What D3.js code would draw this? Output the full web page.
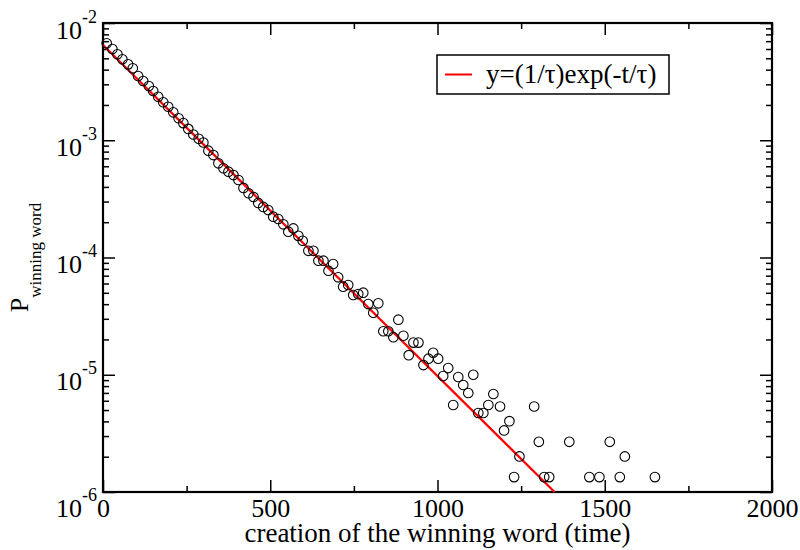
<!DOCTYPE html>
<html>
<head>
<meta charset="utf-8">
<script src="https://cdn.jsdelivr.net/npm/d3@7"></script>
<style>
  body { margin: 0; background: #fff; }
  svg text { font-family: "Liberation Serif", "Times New Roman", serif; fill: #000; }
</style>
</head>
<body>
<svg id="chart"></svg>
<script>
// Winning word creation time distribution
var times = [11, 28, 43, 58, 75, 89, 105, 120, 137, 150, 165, 180, 195, 210, 226, 240, 255, 270, 286, 300,
  315, 330, 345, 360, 375, 390, 405, 420, 435, 450, 464, 479, 494, 509, 524, 539, 554, 569, 584, 597,
  614, 629, 644, 659, 674, 688, 703, 718, 733, 748, 763, 778, 793, 808, 823, 838, 853, 868, 883, 898,
  914, 928, 943, 958, 973, 987, 1002, 1017, 1032, 1047, 1062, 1077, 1092, 1107, 1122, 1137, 1152, 1167,
  1187, 1199, 1215, 1229, 1245, 1289, 1303, 1319, 1334, 1394, 1454, 1484, 1515, 1545, 1560, 1650];

var probs = [6.71e-3, 6.00e-3, 5.41e-3, 4.90e-3, 4.44e-3, 4.11e-3, 3.53e-3, 3.20e-3, 2.90e-3, 2.63e-3,
  2.35e-3, 2.11e-3, 1.93e-3, 1.73e-3, 1.54e-3, 1.40e-3, 1.25e-3, 1.12e-3, 1.03e-3, 9.57e-4,
  8.15e-4, 7.48e-4, 6.36e-4, 5.77e-4, 5.39e-4, 5.05e-4, 4.58e-4, 3.92e-4, 3.53e-4, 3.28e-4,
  2.92e-4, 2.70e-4, 2.54e-4, 2.23e-4, 2.13e-4, 1.92e-4, 1.66e-4, 1.77e-4, 1.53e-4, 1.39e-4,
  1.14e-4, 1.14e-4, 9.39e-5, 9.39e-5, 7.72e-5, 8.80e-5, 6.78e-5, 5.64e-5, 5.83e-5, 4.79e-5,
  4.88e-5, 5.01e-5, 4.01e-5, 3.38e-5, 4.07e-5, 2.35e-5, 2.35e-5, 2.09e-5, 2.95e-5, 2.15e-5,
  1.47e-5, 1.88e-5, 1.88e-5, 1.21e-5, 1.37e-5, 1.54e-5, 1.37e-5, 9.75e-6, 1.14e-5, 5.52e-6,
  9.57e-6, 8.18e-6, 6.99e-6, 1.0e-5, 4.72e-6, 4.72e-6, 5.52e-6, 6.85e-6,
  5.36e-6, 3.35e-6, 4.02e-6, 1.34e-6, 2.01e-6, 5.36e-6, 2.68e-6, 1.34e-6, 1.34e-6, 2.68e-6,
  1.34e-6, 1.34e-6, 2.68e-6, 1.34e-6, 2.01e-6, 1.34e-6];

// fitted exponential y=(1/tau)exp(-t/tau), end points of the straight line on the log axis
var fitT = [0, 1350];
var fitP = [6.5e-3, 1e-6];

var xMajor = [0, 500, 1000, 1500, 2000];
var xMinor = [250, 750, 1250, 1750];
var yMajor = [1e-6, 1e-5, 1e-4, 1e-3, 1e-2];
var yExps = ["-6", "-5", "-4", "-3", "-2"];

var legendLabel = "y=(1/\u03c4)exp(-t/\u03c4)";

var W = 800, H = 550;
var margin = {top: 23, right: 28, bottom: 58, left: 103};

var svg = d3.select("#chart").attr("width", W).attr("height", H);

var x = d3.scaleLinear().domain([0, 2000]).range([margin.left, W - margin.right]);
var y = d3.scaleLog().domain([1e-6, 1e-2]).range([H - margin.bottom, margin.top]);

var yMinor = [];
yMajor.slice(0, 4).forEach(function(d) {
  for (var m = 2; m <= 9; m++) yMinor.push(d * m);
});

var x0 = x.range()[0], x1 = x.range()[1], y0 = y.range()[0], y1 = y.range()[1];

// minor ticks (all four sides, pointing inward)
function noLabels() { return ""; }
svg.append("g").attr("class", "ax").attr("transform", "translate(0," + y0 + ")")
  .call(d3.axisBottom(x).tickValues(xMinor).tickSize(-6).tickFormat(noLabels));
svg.append("g").attr("class", "ax").attr("transform", "translate(0," + y1 + ")")
  .call(d3.axisTop(x).tickValues(xMinor).tickSize(-6).tickFormat(noLabels));
svg.append("g").attr("class", "ax").attr("transform", "translate(" + x0 + ",0)")
  .call(d3.axisLeft(y).tickValues(yMinor).tickSize(-6).tickFormat(noLabels));
svg.append("g").attr("class", "ax").attr("transform", "translate(" + x1 + ",0)")
  .call(d3.axisRight(y).tickValues(yMinor).tickSize(-6).tickFormat(noLabels));

// major ticks
var xAxis = svg.append("g").attr("class", "ax").attr("transform", "translate(0," + y0 + ")")
  .call(d3.axisBottom(x).tickValues(xMajor).tickSize(-12).tickPadding(7).tickFormat(d3.format("d")));
xAxis.selectAll("text").style("font-size", "26px");

svg.append("g").attr("class", "ax").attr("transform", "translate(0," + y1 + ")")
  .call(d3.axisTop(x).tickValues(xMajor).tickSize(-12).tickFormat(noLabels));
svg.append("g").attr("class", "ax").attr("transform", "translate(" + x1 + ",0)")
  .call(d3.axisRight(y).tickValues(yMajor).tickSize(-12).tickFormat(noLabels));

var yAxis = svg.append("g").attr("class", "ax").attr("transform", "translate(" + x0 + ",0)")
  .call(d3.axisLeft(y).tickValues(yMajor).tickSize(-12).tickFormat(noLabels));

yAxis.selectAll(".tick").each(function(d, i) {
  var t = d3.select(this).append("text")
    .attr("x", -6).attr("y", i === 0 ? 24 : 15)
    .attr("text-anchor", "end")
    .style("font-size", "26px");
  t.append("tspan").text("10");
  t.append("tspan").attr("dy", -16).style("font-size", "18px").text(yExps[i]);
});

svg.selectAll(".ax path").remove();
svg.selectAll(".ax line").attr("stroke", "#000").attr("stroke-width", 1.5);

// frame
svg.append("rect")
  .attr("x", x0).attr("y", y1)
  .attr("width", x1 - x0).attr("height", y0 - y1)
  .attr("fill", "none").attr("stroke", "#000").attr("stroke-width", 2.2);

// fitted line
svg.append("path")
  .datum(d3.zip(fitT, fitP))
  .attr("d", d3.line().x(function(d) { return x(d[0]); }).y(function(d) { return y(d[1]); }))
  .attr("fill", "none").attr("stroke", "#ff0000").attr("stroke-width", 2.2);

// data points
svg.append("g").selectAll("circle")
  .data(d3.zip(times, probs))
  .enter().append("circle")
  .attr("cx", function(d) { return x(d[0]); })
  .attr("cy", function(d) { return y(d[1]); })
  .attr("r", 4.8)
  .attr("fill", "none").attr("stroke", "#000").attr("stroke-width", 1.1);

// legend
var lg = svg.append("g").attr("transform", "translate(437,55)");
lg.append("rect").attr("width", 232).attr("height", 39)
  .attr("fill", "#fff").attr("stroke", "#000").attr("stroke-width", 1.5);
lg.append("line").attr("x1", 8).attr("x2", 35).attr("y1", 19.5).attr("y2", 19.5)
  .attr("stroke", "#ff0000").attr("stroke-width", 2);
lg.append("text").attr("x", 49).attr("y", 28).style("font-size", "27px").text(legendLabel);

// axis titles
svg.append("text")
  .attr("x", (x0 + x1) / 2).attr("y", 542)
  .attr("text-anchor", "middle").style("font-size", "27px")
  .text("creation of the winning word (time)");

var yt = svg.append("text")
  .attr("transform", "translate(28," + ((y0 + y1) / 2) + ") rotate(-90)")
  .attr("text-anchor", "middle").style("font-size", "26px");
yt.append("tspan").text("P");
yt.append("tspan").attr("dy", 13).style("font-size", "17px").text("winning word");
</script>
</body>
</html>
